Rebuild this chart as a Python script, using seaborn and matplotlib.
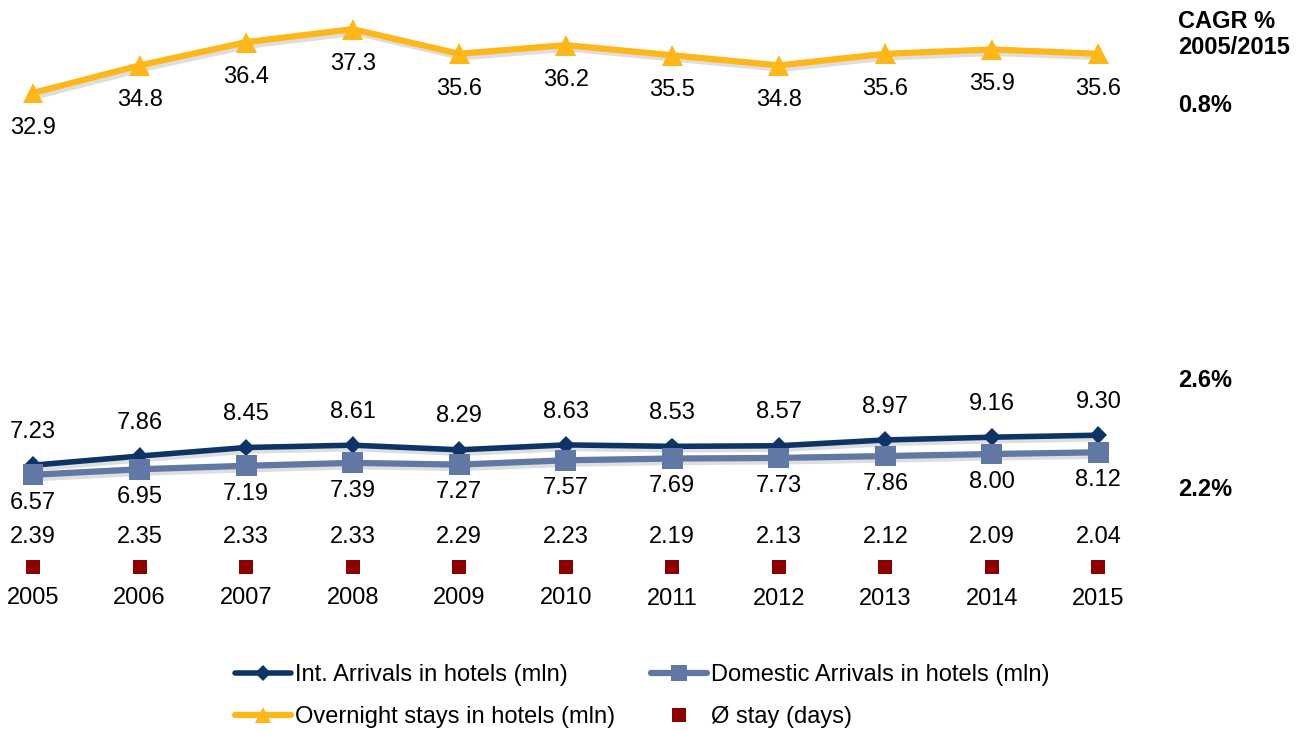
import numpy as np
import matplotlib
matplotlib.use('Agg')
import matplotlib.pyplot as plt
import matplotlib.patheffects as pe
from matplotlib.lines import Line2D
import seaborn as sns

# Data
years = [2005, 2006, 2007, 2008, 2009, 2010, 2011, 2012, 2013, 2014, 2015]
overnight = [32.9, 34.8, 36.4, 37.3, 35.6, 36.2, 35.5, 34.8, 35.6, 35.9, 35.6]
int_arrivals = [7.23, 7.86, 8.45, 8.61, 8.29, 8.63, 8.53, 8.57, 8.97, 9.16, 9.30]
dom_arrivals = [6.57, 6.95, 7.19, 7.39, 7.27, 7.57, 7.69, 7.73, 7.86, 8.00, 8.12]
stay_days = [2.39, 2.35, 2.33, 2.33, 2.29, 2.23, 2.19, 2.13, 2.12, 2.09, 2.04]

cagr_header = ['CAGR %', '2005/2015']
cagr_values = ['0.8%', '2.6%', '2.2%']

c_over = '#FDB71A'
c_int = '#0E3366'
c_dom = '#6278A4'
c_stay = '#8B0000'

sns.set_theme(style='white')
plt.rcParams['font.family'] = ['Liberation Sans', 'DejaVu Sans']
plt.rcParams['text.color'] = 'black'

fig = plt.figure(figsize=(13.04, 7.31), dpi=100)
ax = fig.add_axes([0, 0, 1, 1])
ax2 = ax.twinx()

shadow = [pe.SimpleLineShadow(offset=(2, -2.5), alpha=0.13, shadow_color='black'), pe.Normal()]

sns.lineplot(x=years, y=int_arrivals, ax=ax, color=c_int, lw=4, marker='D',
             markersize=9, markeredgewidth=0, path_effects=shadow)
sns.lineplot(x=years, y=dom_arrivals, ax=ax, color=c_dom, lw=4.5, marker='s',
             markersize=15, markeredgewidth=0, path_effects=shadow)
sns.lineplot(x=years, y=overnight, ax=ax, color=c_over, lw=4.5, marker='^',
             markersize=15, markeredgewidth=0, path_effects=shadow)

# scale so 2005 sits at x=33px and 1 unit ~ 14.5px
ax.set_xlim(2004.69, 2016.93)
ax.set_ylim(-11.1, 39.31)

# stay markers on a secondary scale (flat row near the bottom)
R = 1500
ax2.set_ylim(2.21 - 0.224 * R, 2.21 + 0.776 * R)
sns.scatterplot(x=years, y=stay_days, ax=ax2, color=c_stay, marker='s', s=110,
                linewidth=0)

fs = 17
for x, v in zip(years, overnight):
    ax.annotate(f'{v:.1f}', (x, v), xytext=(0, -25), textcoords='offset points',
                ha='center', va='center', fontsize=fs)
for x, v in zip(years, int_arrivals):
    ax.annotate(f'{v:.2f}', (x, v), xytext=(0, 24), textcoords='offset points',
                ha='center', va='center', fontsize=fs)
for x, v in zip(years, dom_arrivals):
    ax.annotate(f'{v:.2f}', (x, v), xytext=(0, -20), textcoords='offset points',
                ha='center', va='center', fontsize=fs)
for x, v in zip(years, stay_days):
    ax2.annotate(f'{v:.2f}', (x, v), xytext=(0, 22), textcoords='offset points',
                 ha='center', va='center', fontsize=fs)
    ax2.annotate(str(x), (x, v), xytext=(0, -22.5), textcoords='offset points',
                 ha='center', va='center', fontsize=fs)

for a in (ax, ax2):
    a.set_axis_off()

# CAGR column
cf = 17
fig.text(1178 / 1304, 1 - 21 / 731, cagr_header[0], fontsize=cf, fontweight='bold', va='center')
fig.text(1178 / 1304, 1 - 48 / 731, cagr_header[1], fontsize=cf, fontweight='bold', va='center')
for y, t in zip([105, 380, 490], cagr_values):
    fig.text(1178 / 1304, 1 - y / 731, t, fontsize=cf, fontweight='bold', va='center')

handles = [
    Line2D([], [], color=c_int, lw=4, marker='D', markersize=8, markeredgewidth=0),
    Line2D([], [], color=c_over, lw=4.5, marker='^', markersize=12, markeredgewidth=0),
    Line2D([], [], color=c_dom, lw=4.5, marker='s', markersize=12, markeredgewidth=0),
    Line2D([], [], color=c_stay, lw=0, marker='s', markersize=10, markeredgewidth=0),
]
labels = ['Int. Arrivals in hotels (mln)', 'Overnight stays in hotels (mln)',
          'Domestic Arrivals in hotels (mln)', '\u00d8 stay (days)']
fig.legend(handles, labels, ncol=2, loc='center', bbox_to_anchor=(642 / 1304, 1 - 696 / 731),
           frameon=False, fontsize=fs, handlelength=2.4, handletextpad=0.15,
           columnspacing=1.5, labelspacing=0.85)

fig.savefig('out.png', dpi=100)
